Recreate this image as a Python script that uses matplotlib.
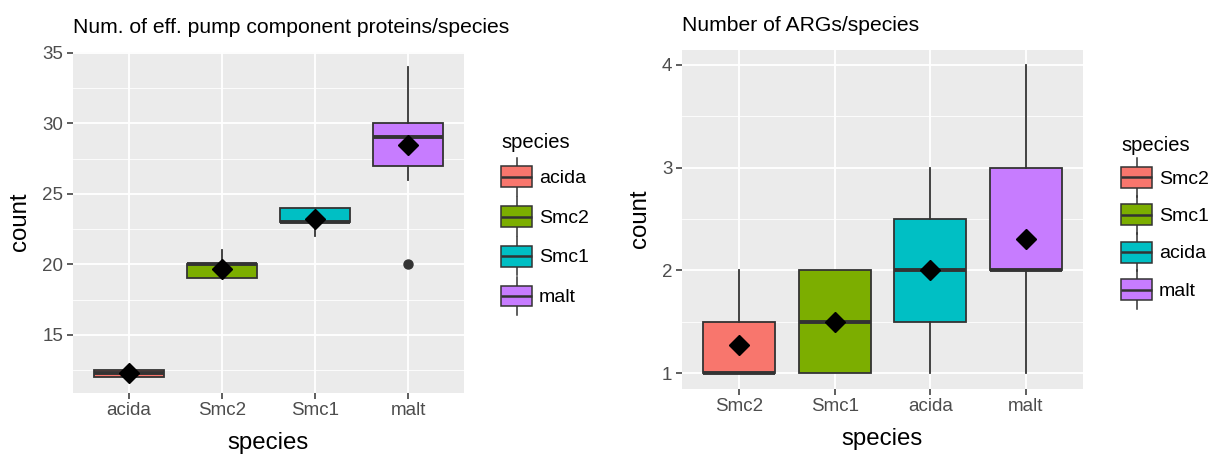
import matplotlib

matplotlib.use("Agg")
import matplotlib.pyplot as plt
from matplotlib.legend_handler import HandlerBase
from matplotlib.lines import Line2D
from matplotlib.patches import Patch, Rectangle
from matplotlib.ticker import MultipleLocator

plt.rcParams["font.family"] = ["Liberation Sans", "DejaVu Sans"]

# ggplot default hue palette, assigned by factor order in each panel
HUE = ["#F8766D", "#7CAE00", "#00BFC4", "#C77CFF"]
EDGE = "#333333"

# efflux pump component proteins per species
pump_species = ["acida", "Smc2", "Smc1", "malt"]
pump_q1 = [12.0, 19.0, 23.0, 27.0]
pump_median = [12.25, 20.0, 23.0, 29.0]
pump_q3 = [12.5, 20.0, 24.0, 30.0]
pump_whislo = [12.0, 19.0, 22.0, 26.0]
pump_whishi = [12.5, 21.0, 24.0, 34.0]
pump_mean = [12.3, 19.7, 23.2, 28.5]
pump_outliers = [[], [], [], [20.0]]

# antibiotic resistance genes per species
arg_species = ["Smc2", "Smc1", "acida", "malt"]
arg_q1 = [1.0, 1.0, 1.5, 2.0]
arg_median = [1.0, 1.5, 2.0, 2.0]
arg_q3 = [1.5, 2.0, 2.5, 3.0]
arg_whislo = [1.0, 1.0, 1.0, 1.0]
arg_whishi = [2.0, 2.0, 3.0, 4.0]
arg_mean = [1.27, 1.5, 2.0, 2.31]
arg_outliers = [[], [], [], []]


class BoxKey(HandlerBase):
    """Legend key drawn like a small boxplot: whisker, box and median."""

    def create_artists(self, legend, orig_handle, xdescent, ydescent,
                       width, height, fontsize, trans):
        x0 = -xdescent
        cy = -ydescent + height / 2
        bh = height * 0.69
        whisk = Line2D([x0 + width / 2] * 2, [cy - height * 0.64, cy + height * 0.64],
                       color=EDGE, lw=1.1, transform=trans)
        box = Rectangle((x0, cy - bh / 2), width, bh,
                        facecolor=orig_handle.get_facecolor(), edgecolor=EDGE,
                        lw=1.1, transform=trans)
        med = Line2D([x0, x0 + width], [cy, cy], color=EDGE, lw=1.8,
                     solid_capstyle="butt", transform=trans)
        return [whisk, box, med]


def draw_panel(ax, species, q1, med, q3, lo, hi, mean, fliers, title, ystep):
    stats = []
    for i, name in enumerate(species):
        stats.append(dict(label=name, q1=q1[i], med=med[i], q3=q3[i],
                          whislo=lo[i], whishi=hi[i], mean=mean[i], fliers=fliers[i]))
    positions = list(range(1, len(species) + 1))
    parts = ax.bxp(
        stats, positions=positions, widths=0.75, patch_artist=True,
        showmeans=True, showcaps=False,
        boxprops=dict(edgecolor=EDGE, linewidth=1.3),
        medianprops=dict(color=EDGE, linewidth=2.8, solid_capstyle="butt"),
        whiskerprops=dict(color=EDGE, linewidth=1.3),
        meanprops=dict(marker="D", markerfacecolor="black", markeredgecolor="black",
                       markersize=10, zorder=5),
        flierprops=dict(marker="o", markerfacecolor=EDGE, markeredgecolor=EDGE,
                        markersize=6.5),
    )
    for patch, colour in zip(parts["boxes"], HUE):
        patch.set_facecolor(colour)

    # ggplot style 5% expansion of the data range
    values = lo + hi + mean + [v for f in fliers for v in f]
    vmin, vmax = min(values), max(values)
    pad = 0.05 * (vmax - vmin)
    ax.set_ylim(vmin - pad, vmax + pad)
    ax.set_xlim(0.4, len(species) + 0.6)

    ax.set_facecolor("#EBEBEB")
    for side in ax.spines.values():
        side.set_visible(False)
    ax.yaxis.set_major_locator(MultipleLocator(ystep))
    ax.yaxis.set_minor_locator(MultipleLocator(ystep / 2))
    ax.grid(which="major", color="white", lw=1.3)
    ax.grid(which="minor", axis="y", color="white", lw=0.6)
    ax.set_axisbelow(True)
    ax.tick_params(which="major", colors=EDGE, labelcolor="#4D4D4D",
                   length=4, width=1.1, pad=3, labelsize=13.5)
    ax.tick_params(which="minor", length=0)
    ax.set_xticks(positions, species)

    ax.set_xlabel("species", fontsize=17.3, labelpad=9)
    ax.set_ylabel("count", fontsize=17.3, labelpad=8)
    ax.set_title(title, loc="left", fontsize=15.2, pad=13)

    handles = [Patch(facecolor=c, edgecolor=EDGE) for c in HUE]
    return handles


fig = plt.figure(figsize=(12.12, 4.54), dpi=100)
W, H = 1212, 454

ax1 = fig.add_axes([73 / W, (H - 392.5) / H, 391 / W, 341 / H])
ax2 = fig.add_axes([682 / W, (H - 388.5) / H, 401 / W, 339 / H])

h1 = draw_panel(ax1, pump_species, pump_q1, pump_median, pump_q3, pump_whislo,
                pump_whishi, pump_mean, pump_outliers,
                "Num. of eff. pump component proteins/species", 5)
h2 = draw_panel(ax2, arg_species, arg_q1, arg_median, arg_q3, arg_whislo,
                arg_whishi, arg_mean, arg_outliers, "Number of ARGs/species", 1)

for ax, handles, labels, anchor, spacing in [
    (ax1, h1, pump_species, (501 / W, 1 - 133 / H), 0.5),
    (ax2, h2, arg_species, (1121 / W, 1 - 136 / H), 0.38),
]:
    leg = ax.legend(handles, labels, handler_map={Patch: BoxKey()},
                    loc="upper left", bbox_to_anchor=anchor,
                    bbox_transform=fig.transFigure, frameon=False,
                    title="species", alignment="left", fontsize=14,
                    title_fontsize=14.5, handlelength=1.6, handleheight=2.0,
                    handletextpad=0.35, labelspacing=spacing,
                    borderpad=0, borderaxespad=0)

fig.savefig("out.png", dpi=100)
